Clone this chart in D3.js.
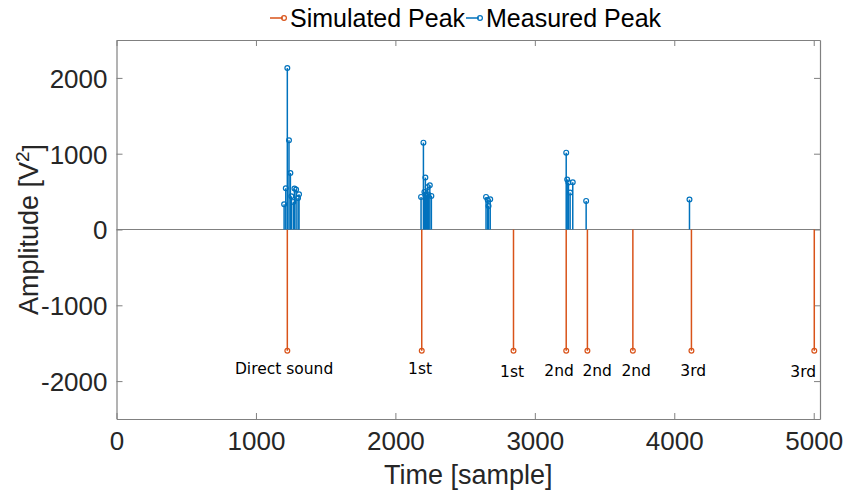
<!DOCTYPE html>
<html>
<head>
<meta charset="utf-8">
<script src="https://cdn.jsdelivr.net/npm/d3@7"></script>
<style>
  html, body { margin: 0; padding: 0; background: #fff; }
  svg { display: block; }
</style>
</head>
<body>
<svg id="chart" width="848" height="492"></svg>
<script>
// ---- data ----
const simulatedX = [1225, 2189, 2847, 3225, 3377, 3703, 4123, 5004];
const simulatedY = [-1600, -1600, -1600, -1600, -1600, -1600, -1600, -1600];

const measuredX = [1202, 1214, 1225, 1237, 1247, 1254, 1268, 1276, 1288, 1302, 1309,
                   2184, 2201, 2208, 2215, 2222, 2232, 2237, 2247, 2258,
                   2650, 2662, 2668, 2680,
                   3225, 3232, 3241, 3253, 3272, 3368,
                   4109];
const measuredY = [333, 544, 2130, 1176, 746, 439, 364, 540, 527, 417, 465,
                   430, 1146, 496, 685, 452, 561, 460, 584, 443,
                   430, 390, 310, 400,
                   1014, 659, 619, 487, 623, 377,
                   395];

const labelText = ["Direct sound", "1st", "1st", "2nd", "2nd", "2nd", "3rd", "3rd"];
const labelX = [1202, 2177, 2837, 3174, 3447, 3727, 4136, 4925];
const labelY = [-1830, -1830, -1880, -1860, -1860, -1860, -1860, -1880];

const xTicks = [0, 1000, 2000, 3000, 4000, 5000];
const yTicks = [-2000, -1000, 0, 1000, 2000];
const legendNames = ["Simulated Peak", "Measured Peak"];

// ---- layout ----
const svg = d3.select("#chart");
const L = 116.5, R = 820, T = 40, B = 419;
const x = d3.scaleLinear().domain([0, 5045]).range([L, R]);
const y = d3.scaleLinear().domain([-2500, 2500]).range([B, T]);

const orange = "#D95319", blue = "#0072BD", axisCol = "#808080", textCol = "#262626";
const tickFont = "'Liberation Sans', Arial, sans-serif";
const fmt = d => String(d);

// axes
const gx = svg.append("g").attr("transform", `translate(0,${B})`)
  .call(d3.axisBottom(x).tickValues(xTicks).tickFormat(fmt).tickSizeInner(-6).tickSizeOuter(0).tickPadding(13));
const gxt = svg.append("g").attr("transform", `translate(0,${T})`)
  .call(d3.axisTop(x).tickValues(xTicks).tickFormat("").tickSizeInner(-6).tickSizeOuter(0));
const gy = svg.append("g").attr("transform", `translate(${L},0)`)
  .call(d3.axisLeft(y).tickValues(yTicks).tickFormat(fmt).tickSizeInner(-6).tickSizeOuter(0).tickPadding(9));
const gyr = svg.append("g").attr("transform", `translate(${R},0)`)
  .call(d3.axisRight(y).tickValues(yTicks).tickFormat("").tickSizeInner(-6).tickSizeOuter(0));

[gx, gxt, gy, gyr].forEach(g => {
  g.selectAll("path.domain").attr("stroke", axisCol).attr("stroke-width", 1.2);
  g.selectAll(".tick line").attr("stroke", axisCol).attr("stroke-width", 1);
  g.selectAll(".tick text").attr("fill", textCol).style("font-family", tickFont).style("font-size", "26px");
});
gx.selectAll(".tick text").attr("dy", "0.71em");
gy.selectAll(".tick text").attr("dy", "0.36em");

// baseline at 0
svg.append("line").attr("x1", L).attr("x2", R).attr("y1", y(0)).attr("y2", y(0))
  .attr("stroke", axisCol).attr("stroke-width", 1.2);

const sim = simulatedX.map((d, i) => ({x: d, y: simulatedY[i]}));
const mea = measuredX.map((d, i) => ({x: d, y: measuredY[i]}));

// simulated stems
svg.append("g").selectAll("line").data(sim).join("line")
  .attr("x1", d => x(d.x)).attr("x2", d => x(d.x))
  .attr("y1", y(0)).attr("y2", d => y(d.y))
  .attr("stroke", orange).attr("stroke-width", 1.5);
svg.append("g").selectAll("circle").data(sim).join("circle")
  .attr("cx", d => x(d.x)).attr("cy", d => y(d.y)).attr("r", 2.4)
  .attr("fill", "none").attr("stroke", orange).attr("stroke-width", 1.2);

// measured stems
svg.append("g").selectAll("line").data(mea).join("line")
  .attr("x1", d => x(d.x)).attr("x2", d => x(d.x))
  .attr("y1", y(0)).attr("y2", d => y(d.y))
  .attr("stroke", blue).attr("stroke-width", 1.5);
svg.append("g").selectAll("circle").data(mea).join("circle")
  .attr("cx", d => x(d.x)).attr("cy", d => y(d.y)).attr("r", 2.4)
  .attr("fill", "none").attr("stroke", blue).attr("stroke-width", 1.2);

// annotations
svg.append("g").selectAll("text").data(labelText).join("text")
  .attr("x", (d, i) => x(labelX[i])).attr("y", (d, i) => y(labelY[i]))
  .attr("text-anchor", "middle").attr("dy", "0.35em")
  .style("font-family", "'DejaVu Sans', Verdana, sans-serif").style("font-size", "15.5px")
  .attr("fill", "#000").text(d => d);

// axis labels
svg.append("text").attr("x", (L + R) / 2).attr("y", 484)
  .attr("text-anchor", "middle").attr("fill", textCol)
  .style("font-family", tickFont).style("font-size", "27px").text("Time [sample]");
const yl = svg.append("text").attr("transform", `translate(38,${(T + B) / 2}) rotate(-90)`)
  .attr("text-anchor", "middle").attr("fill", textCol)
  .style("font-family", tickFont).style("font-size", "27px");
yl.append("tspan").text("Amplitude [V");
yl.append("tspan").attr("dy", "-0.45em").style("font-size", "19px").text("2");
yl.append("tspan").attr("dy", "0.45em").text("]");

// legend
const legCols = [orange, blue];
const legX = [270, 466];
legendNames.forEach((name, i) => {
  const g = svg.append("g").attr("transform", `translate(${legX[i]},18)`);
  g.append("line").attr("x1", 0).attr("x2", 13).attr("y1", 0).attr("y2", 0)
    .attr("stroke", legCols[i]).attr("stroke-width", 1.5);
  g.append("circle").attr("cx", 14).attr("cy", 0).attr("r", 2.4)
    .attr("fill", "none").attr("stroke", legCols[i]).attr("stroke-width", 1.2);
  g.append("text").attr("x", 20).attr("y", 0).attr("dy", "0.35em")
    .attr("fill", "#000").style("font-family", tickFont).style("font-size", "25px").text(name);
});
</script>
</body>
</html>
